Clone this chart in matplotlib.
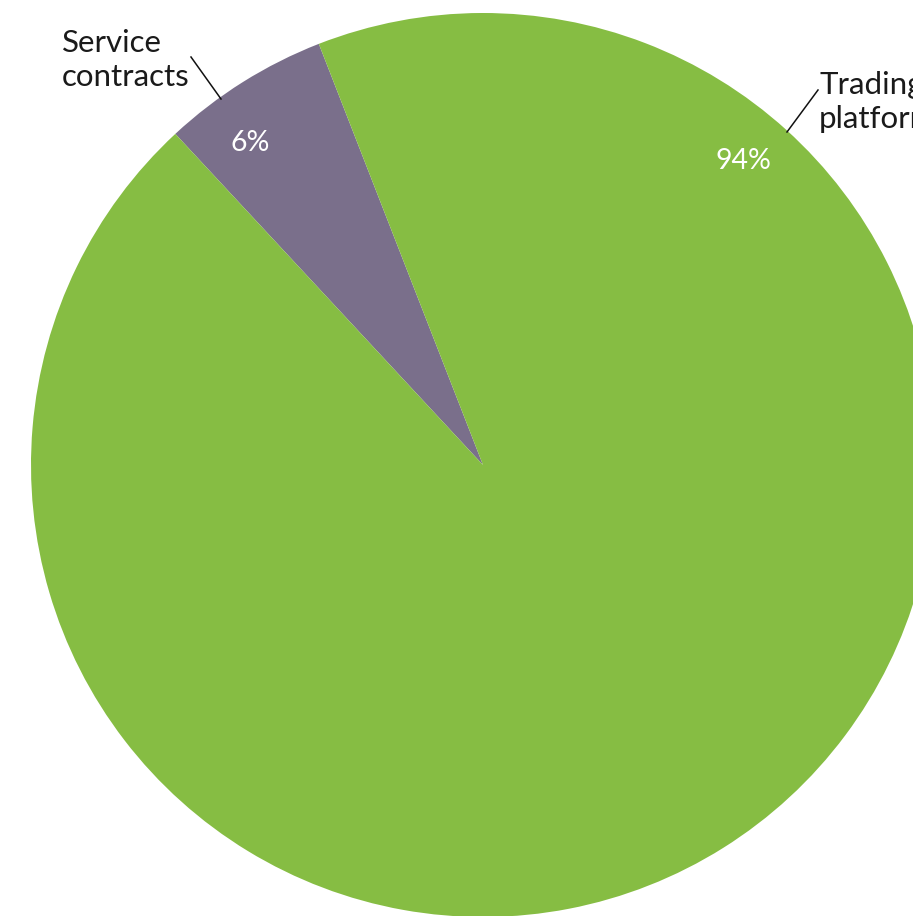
import numpy as np
import matplotlib
matplotlib.use("Agg")
import matplotlib.pyplot as plt

plt.rcParams["font.family"] = ["Lato", "DejaVu Sans"]

# data
CATEGORIES = ["Service\ncontracts", "Trading\nplatform"]
SHARES = [6, 94]
PCT_LABELS = ["6%", "94%"]
COLORS = ["#7A6F8B", "#86BD43"]

W, H = 913, 916
CX, CY, R = 483, H - 465, 452


def main():
    fig = plt.figure(figsize=(W / 100, H / 100), dpi=100)
    ax = fig.add_axes([0, 0, 1, 1])

    ax.pie(
        SHARES,
        colors=COLORS,
        startangle=111.3,
        counterclock=True,
        center=(CX, CY),
        radius=R,
        wedgeprops=dict(linewidth=0),
        frame=True,
    )
    ax.set_xlim(0, W)
    ax.set_ylim(0, H)
    ax.set_aspect("equal")
    ax.axis("off")

    # percentage labels (angle in degrees, radius fraction)
    pct_pos = [(125.9, 0.88), (49.4, 0.885)]
    for txt, (ang, rf) in zip(PCT_LABELS, pct_pos):
        a = np.deg2rad(ang)
        ax.text(CX + rf * R * np.cos(a), CY + rf * R * np.sin(a), txt,
                color="white", fontsize=20.5, ha="center", va="center")

    # category labels with leader lines
    ax.plot([191, 221], [H - 57, H - 99], color="#111111", lw=1.1)
    ax.text(62, H - 60, CATEGORIES[0], color="#1a1a1a", fontsize=22.5,
            ha="left", va="center", linespacing=1.3)
    ax.plot([818, 787], [H - 90, H - 132], color="#111111", lw=1.1)
    ax.text(819, H - 102, CATEGORIES[1], color="#1a1a1a", fontsize=22.5,
            ha="left", va="center", linespacing=1.3)

    fig.savefig("out.png", dpi=100)


if __name__ == "__main__":
    main()
